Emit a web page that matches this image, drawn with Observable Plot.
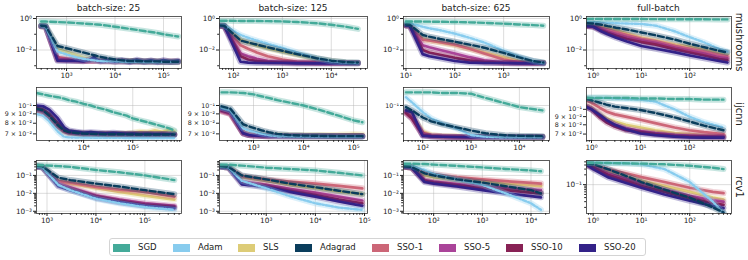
<!DOCTYPE html>
<html><head><meta charset="utf-8">
<script src="https://cdn.jsdelivr.net/npm/d3@7"></script>
<script src="https://cdn.jsdelivr.net/npm/@observablehq/plot@0.6"></script>
<style>
body{margin:0;background:#fff;font-family:"DejaVu Sans",sans-serif;}
#root{position:relative;width:748px;height:260px;overflow:hidden;background:#fff;}
.panel{position:absolute;}
.title{position:absolute;font-size:9px;color:#222;transform:translate(-50%,-50%);white-space:nowrap;}
.rowlab{position:absolute;font-size:10px;color:#222;transform:translate(-50%,-50%) rotate(90deg);white-space:nowrap;}
#legend{position:absolute;left:109px;top:238px;width:537px;height:18px;border:1px solid #d4d4d4;border-radius:3px;box-sizing:border-box;}
.sw{position:absolute;top:4.5px;width:17px;height:8px;}
.lt{position:absolute;top:2px;font-size:8.5px;color:#222;white-space:nowrap;line-height:12px;}
</style></head>
<body><div id="root"></div>
<script>
const methods = ["SGD","Adam","SLS","Adagrad","SSO-1","SSO-5","SSO-10","SSO-20"];
const colors = ["#44AA99","#88CCEE","#DDCC77","#0a3d5c","#CC6677","#AA4499","#882255","#332288"];
const datasets = ["mushrooms","ijcnn","rcv1"];
const batches = ["batch-size: 25","batch-size: 125","batch-size: 625","full-batch"];

// ---- mushrooms ----
const m25_x = [300,370,650,1000,1500,2200,3000,3700,4200,5000,7000,10000,14000,20000,28000,40000,55000,75000,100000,140000,200000];
const m25 = [
 [0.65,0.64,0.6,0.56,0.52,0.48,0.45,0.43,0.42,0.4,0.35,0.3,0.26,0.22,0.19,0.16,0.14,0.12,0.1,0.085,0.072],
 [0.33,0.3,0.008,0.0052,0.0036,0.0028,0.0024,0.0022,0.0021,0.002,0.0019,0.0019,0.0018,0.0018,0.0018,0.0017,0.0017,0.0017,0.0017,0.0017,0.0017],
 [0.33,0.31,0.011,0.0075,0.005,0.0035,0.0028,0.0025,0.0023,0.0021,0.002,0.0019,0.0019,0.0019,0.0019,0.0018,0.0018,0.0018,0.0018,0.0018,0.0018],
 [0.35,0.33,0.018,0.013,0.0095,0.007,0.0055,0.0047,0.0042,0.0037,0.003,0.0025,0.0022,0.002,0.002,0.0019,0.0019,0.0019,0.0018,0.0018,0.0018],
 [0.32,0.3,0.0035,0.003,0.0026,0.0023,0.0022,0.0021,0.0021,0.002,0.002,0.0019,0.0019,0.0019,0.0019,0.0018,0.0018,0.0018,0.0018,0.0018,0.0018],
 [0.32,0.3,0.0026,0.0024,0.0022,0.0021,0.002,0.002,0.002,0.0019,0.0019,0.0019,0.0018,0.0018,0.0018,0.0018,0.0018,0.0018,0.0018,0.0018,0.0018],
 [0.32,0.3,0.0023,0.0022,0.0021,0.002,0.002,0.0021,0.002,0.0019,0.002,0.0019,0.0019,0.0018,0.0019,0.0018,0.0019,0.0018,0.0018,0.0018,0.0018],
 [0.35,0.33,0.0021,0.002,0.0021,0.0019,0.0024,0.0036,0.0024,0.0019,0.0022,0.0018,0.0023,0.0017,0.0024,0.0018,0.0022,0.0017,0.0023,0.0018,0.0021]
];
const m125_x = [55,65,140,200,300,500,1000,2000,5000,10000,20000,35000];
const m125 = [
 [0.72,0.72,0.7,0.7,0.69,0.68,0.65,0.6,0.5,0.4,0.3,0.22],
 [0.38,0.37,0.09,0.06,0.04,0.025,0.014,0.007,0.003,0.0019,0.0016,0.0015],
 [0.36,0.35,0.045,0.03,0.02,0.013,0.008,0.005,0.0028,0.002,0.0016,0.0015],
 [0.36,0.35,0.04,0.03,0.022,0.015,0.009,0.0055,0.003,0.0021,0.0017,0.0016],
 [0.34,0.33,0.02,0.012,0.007,0.004,0.0025,0.0018,0.0016,0.0015,0.0015,0.0015],
 [0.34,0.33,0.006,0.004,0.0028,0.002,0.0017,0.0016,0.0015,0.0015,0.0015,0.0015],
 [0.34,0.33,0.004,0.0025,0.002,0.0017,0.0016,0.0015,0.0015,0.0015,0.0015,0.0015],
 [0.36,0.35,0.0018,0.0016,0.0015,0.0015,0.0015,0.0014,0.0014,0.0014,0.0014,0.0014]
];
const m625_x = [10,12,22,30,50,100,200,400,1000,2000,4000,6500];
const m625 = [
 [0.65,0.65,0.64,0.63,0.62,0.6,0.57,0.53,0.47,0.42,0.38,0.35],
 [0.5,0.5,0.3,0.24,0.18,0.11,0.06,0.03,0.009,0.004,0.002,0.0015],
 [0.38,0.36,0.05,0.04,0.03,0.02,0.012,0.007,0.0035,0.002,0.0016,0.0015],
 [0.42,0.4,0.09,0.07,0.05,0.034,0.022,0.014,0.0065,0.0035,0.002,0.0016],
 [0.36,0.35,0.045,0.04,0.032,0.022,0.012,0.006,0.0025,0.0017,0.0015,0.0015],
 [0.36,0.34,0.02,0.015,0.01,0.006,0.0035,0.0022,0.0016,0.0015,0.0015,0.0015],
 [0.36,0.34,0.01,0.007,0.005,0.0032,0.0022,0.0017,0.0015,0.0015,0.0015,0.0015],
 [0.36,0.34,0.0055,0.004,0.003,0.002,0.0016,0.0015,0.0015,0.0014,0.0014,0.0014]
];
const mF_x = [0.75,1,1.5,2,3,5,10,20,50,100,200,400,600];
const mF = [
 [0.95,0.95,0.94,0.94,0.93,0.93,0.92,0.91,0.9,0.9,0.89,0.88,0.88],
 [0.6,0.58,0.55,0.53,0.5,0.48,0.45,0.35,0.15,0.065,0.03,0.012,0.008],
 [0.4,0.38,0.3,0.25,0.18,0.11,0.06,0.04,0.022,0.016,0.01,0.006,0.005],
 [0.5,0.48,0.4,0.33,0.26,0.2,0.13,0.085,0.045,0.025,0.015,0.009,0.007],
 [0.35,0.34,0.25,0.2,0.14,0.09,0.05,0.035,0.018,0.012,0.008,0.005,0.004],
 [0.33,0.32,0.2,0.15,0.1,0.065,0.04,0.028,0.014,0.009,0.006,0.0035,0.003],
 [0.33,0.31,0.17,0.12,0.08,0.05,0.032,0.022,0.011,0.007,0.0045,0.0027,0.0023],
 [0.33,0.3,0.15,0.1,0.06,0.035,0.018,0.012,0.007,0.0045,0.003,0.002,0.0016]
];
// ---- ijcnn ----
const i25_x = [1100,1500,2000,3000,4000,5000,7000,10000,14000,20000,28000,40000,55000,75000,100000,140000,200000,280000,400000,550000,700000];
const i25 = [
 [0.117,0.115,0.113,0.111,0.109,0.107,0.105,0.102,0.1,0.097,0.095,0.092,0.09,0.088,0.085,0.083,0.081,0.079,0.077,0.075,0.073],
 [0.09,0.088,0.082,0.072,0.0675,0.067,0.0668,0.0668,0.0667,0.0667,0.0666,0.0666,0.0666,0.0665,0.0665,0.0665,0.0665,0.0665,0.0665,0.0665,0.0665],
 [0.093,0.091,0.086,0.077,0.072,0.0705,0.07,0.0698,0.0697,0.0696,0.07,0.0698,0.0702,0.0705,0.071,0.072,0.0715,0.073,0.0718,0.0735,0.072],
 [0.096,0.094,0.088,0.078,0.073,0.0715,0.0708,0.0702,0.07,0.0698,0.0697,0.0697,0.0696,0.0696,0.0695,0.0695,0.0695,0.0694,0.0694,0.0694,0.0694],
 [0.092,0.09,0.085,0.076,0.072,0.0705,0.07,0.0698,0.0697,0.0696,0.0696,0.0695,0.0695,0.0695,0.0694,0.0694,0.0694,0.0693,0.0693,0.0693,0.0693],
 [0.095,0.093,0.088,0.078,0.073,0.071,0.0705,0.07,0.07,0.0698,0.0698,0.0697,0.0697,0.0696,0.0696,0.0695,0.0695,0.0695,0.0694,0.0694,0.0694],
 [0.097,0.095,0.09,0.08,0.074,0.072,0.071,0.0705,0.0705,0.07,0.07,0.0698,0.0698,0.0697,0.0697,0.0696,0.0696,0.0695,0.0695,0.0694,0.0694],
 [0.1,0.099,0.095,0.085,0.076,0.073,0.072,0.071,0.0715,0.071,0.0705,0.071,0.0705,0.07,0.0703,0.0698,0.07,0.0697,0.0698,0.0695,0.0695]
];
const i125_x = [230,345,620,800,1000,1500,2000,3000,5000,10000,20000,50000,100000,150000];
const i125 = [
 [0.118,0.118,0.117,0.116,0.115,0.112,0.11,0.107,0.104,0.1,0.095,0.088,0.083,0.081],
 [0.097,0.094,0.075,0.073,0.072,0.07,0.069,0.068,0.0678,0.0677,0.0677,0.0676,0.0676,0.0676],
 [0.094,0.091,0.072,0.0705,0.07,0.0695,0.069,0.0688,0.0687,0.0687,0.069,0.0692,0.0697,0.0695],
 [0.099,0.096,0.079,0.077,0.0755,0.073,0.0715,0.07,0.069,0.0685,0.0683,0.068,0.068,0.068],
 [0.093,0.09,0.071,0.0695,0.069,0.0685,0.0683,0.0682,0.068,0.068,0.068,0.068,0.068,0.068],
 [0.093,0.09,0.0705,0.069,0.0685,0.0682,0.068,0.068,0.068,0.068,0.068,0.068,0.068,0.068],
 [0.094,0.091,0.0705,0.069,0.0685,0.0682,0.068,0.068,0.068,0.068,0.068,0.068,0.068,0.068],
 [0.096,0.093,0.0705,0.069,0.0685,0.0682,0.068,0.068,0.068,0.0679,0.0679,0.0679,0.0679,0.0679]
];
const i625_x = [45,60,100,150,250,500,1000,2000,5000,10000,30000];
const i625 = [
 [0.118,0.118,0.118,0.118,0.117,0.117,0.116,0.11,0.103,0.098,0.094],
 [0.111,0.104,0.092,0.085,0.08,0.075,0.069,0.0675,0.067,0.067,0.067],
 [0.093,0.088,0.072,0.069,0.068,0.068,0.0675,0.0673,0.0672,0.0672,0.0672],
 [0.098,0.094,0.086,0.082,0.079,0.076,0.073,0.0705,0.0688,0.0683,0.068],
 [0.092,0.087,0.071,0.0685,0.068,0.0675,0.0673,0.0672,0.0672,0.0672,0.0672],
 [0.091,0.085,0.069,0.068,0.0675,0.0673,0.0672,0.0672,0.0672,0.0672,0.0672],
 [0.091,0.085,0.069,0.068,0.0675,0.0673,0.0672,0.0672,0.0672,0.0672,0.0672],
 [0.094,0.092,0.0683,0.0678,0.0675,0.0673,0.0672,0.0672,0.0672,0.0672,0.0672]
];
const iF_x = [0.8,1,1.5,2,3,5,10,20,50,100,200,500];
const iF = [
 [0.118,0.118,0.118,0.118,0.118,0.118,0.117,0.117,0.116,0.116,0.115,0.115],
 [0.118,0.118,0.118,0.118,0.117,0.116,0.115,0.112,0.1,0.09,0.083,0.077],
 [0.105,0.102,0.093,0.088,0.084,0.08,0.077,0.074,0.071,0.07,0.069,0.068],
 [0.116,0.114,0.11,0.107,0.104,0.102,0.099,0.095,0.089,0.084,0.079,0.074],
 [0.113,0.11,0.102,0.097,0.093,0.09,0.086,0.082,0.077,0.074,0.072,0.07],
 [0.104,0.1,0.09,0.085,0.08,0.076,0.073,0.071,0.069,0.0685,0.068,0.0675],
 [0.104,0.1,0.089,0.083,0.078,0.074,0.072,0.07,0.068,0.0675,0.0672,0.067],
 [0.103,0.1,0.092,0.086,0.08,0.075,0.0706,0.069,0.0675,0.0667,0.0665,0.0665]
];
// ---- rcv1 ----
const r25_x = [630,800,1700,3000,10000,30000,100000,400000];
const r25 = [
 [0.38,0.37,0.33,0.3,0.2,0.15,0.1,0.055],
 [0.3,0.28,0.03,0.015,0.005,0.0028,0.0017,0.0012],
 [0.3,0.29,0.045,0.035,0.02,0.012,0.0075,0.0045],
 [0.33,0.32,0.075,0.055,0.035,0.024,0.015,0.009],
 [0.3,0.29,0.05,0.04,0.023,0.016,0.012,0.0065],
 [0.3,0.29,0.035,0.021,0.0075,0.0045,0.0028,0.002],
 [0.3,0.29,0.03,0.018,0.0065,0.0038,0.0023,0.0017],
 [0.3,0.29,0.025,0.015,0.0055,0.0032,0.002,0.0015]
];
const r125_x = [120,170,320,1000,3000,10000,30000,90000];
const r125 = [
 [0.4,0.4,0.35,0.27,0.23,0.19,0.14,0.1],
 [0.3,0.28,0.05,0.019,0.007,0.0028,0.0016,0.0012],
 [0.3,0.28,0.08,0.05,0.03,0.02,0.013,0.009],
 [0.32,0.3,0.1,0.06,0.035,0.022,0.014,0.009],
 [0.3,0.28,0.09,0.06,0.045,0.035,0.026,0.019],
 [0.3,0.28,0.045,0.03,0.018,0.011,0.0065,0.004],
 [0.3,0.28,0.04,0.025,0.014,0.008,0.0045,0.0028],
 [0.3,0.28,0.032,0.022,0.012,0.0065,0.0035,0.002]
];
const r625_x = [25,35,65,100,300,1000,3000,10000,16000];
const r625 = [
 [0.45,0.45,0.43,0.4,0.34,0.28,0.23,0.19,0.17],
 [0.35,0.33,0.2,0.12,0.06,0.03,0.01,0.0028,0.0012],
 [0.3,0.28,0.1,0.08,0.06,0.045,0.035,0.028,0.025],
 [0.32,0.3,0.13,0.1,0.06,0.04,0.025,0.015,0.01],
 [0.3,0.28,0.15,0.12,0.08,0.06,0.048,0.038,0.035],
 [0.3,0.28,0.055,0.045,0.033,0.025,0.02,0.016,0.015],
 [0.3,0.28,0.05,0.04,0.028,0.02,0.015,0.011,0.01],
 [0.3,0.28,0.043,0.035,0.024,0.015,0.01,0.007,0.006]
];
const rF_x = [0.75,1,2,5,10,30,100,300,500];
const rF = [
 [0.47,0.47,0.46,0.45,0.44,0.42,0.38,0.33,0.3],
 [0.47,0.47,0.46,0.45,0.42,0.3,0.12,0.03,0.013],
 [0.4,0.35,0.25,0.17,0.13,0.09,0.06,0.04,0.035],
 [0.45,0.42,0.3,0.18,0.12,0.07,0.04,0.02,0.014],
 [0.42,0.4,0.3,0.22,0.17,0.12,0.08,0.06,0.055],
 [0.4,0.35,0.22,0.15,0.11,0.07,0.045,0.033,0.03],
 [0.4,0.33,0.2,0.13,0.09,0.06,0.038,0.027,0.024],
 [0.4,0.3,0.17,0.11,0.08,0.05,0.032,0.022,0.019]
];

const xDomains = [
 [[240,235000],[52,55000],[8.9,8700],[0.73,730]],
 [[1100,980000],[209,190000],[40,42000],[0.79,730]],
 [[610,560000],[112,115000],[24,24000],[0.73,730]]
];
const yDomains = [
 [[0.00067,1.34],[0.00067,1.34],[0.00067,1.34],[0.00067,1.34]],
 [[0.0644,0.1254],[0.0644,0.1254],[0.0644,0.1254],[0.0638,0.137]],
 [[0.00075,0.68],[0.00075,0.68],[0.00075,0.68],[0.013,0.55]]
];
const yLabels = [
 [[1,0.01],[1,0.01],[1,0.01],[1,0.01]],
 [[0.1,0.09,0.08,0.07],[0.1,0.09,0.08,0.07],[0.1],[0.1,0.09,0.08,0.07]],
 [[0.1,0.01,0.001],[0.1,0.01,0.001],[0.1,0.01,0.001],[0.1]]
];
const yGrids = [
 [[1,0.01],[1,0.01],[1,0.01],[1,0.01]],
 [[0.1],[0.1],[0.1],[0.1]],
 [[0.1,0.01,0.001],[0.1,0.01,0.001],[0.1,0.01,0.001],[0.1]]
];
const yMinors = [
 [[0.1,0.001],[0.1,0.001],[0.1,0.001],[0.1,0.001]],
 [[],[],[0.09,0.08,0.07],[]],
 [null,null,null,null]
];
const panelX = [[m25_x,m125_x,m625_x,mF_x],[i25_x,i125_x,i625_x,iF_x],[r25_x,r125_x,r625_x,rF_x]];
const panelY = [[m25,m125,m625,mF],[i25,i125,i625,iF],[r25,r125,r625,rF]];

const cols = [[36,181],[219,367],[403,549],[586,731]];
const rows = [[16,68],[87,140],[160,213]];
const drawOrder = [2,4,5,6,7,1,3,0];
const dashes = {0:"6,3",1:"4,2,1.5,2",3:"6,3"};

const supMap = {"-":"⁻","0":"⁰","1":"¹","2":"²","3":"³","4":"⁴","5":"⁵","6":"⁶","7":"⁷","8":"⁸","9":"⁹"};
function fmt(d){
  const e = Math.floor(Math.log10(d)+1e-9);
  const m = Math.round(d/Math.pow(10,e));
  const s = "10" + String(e).split("").map(c=>supMap[c]).join("");
  return m===1 ? s : m + " × " + s;
}
function decades(lo,hi){
  const out=[];
  for(let e=Math.ceil(Math.log10(lo)-1e-9); e<=Math.floor(Math.log10(hi)+1e-9); e++) out.push(+Math.pow(10,e).toPrecision(6));
  return out;
}
function minors(lo,hi){
  const out=[];
  for(let e=Math.floor(Math.log10(lo)); e<=Math.floor(Math.log10(hi)); e++)
    for(let k=2;k<=9;k++){ const v=+(k*Math.pow(10,e)).toPrecision(6); if(v>=lo&&v<=hi) out.push(v); }
  return out;
}

const root = document.getElementById("root");
const ml=38, mr=8, mt=4, mb=14;
const FS = 7.3;

for(let r=0;r<3;r++){
  for(let c=0;c<4;c++){
    const xs = panelX[r][c], Y = panelY[r][c];
    const xd = xDomains[r][c], yd = yDomains[r][c];
    const fw = cols[c][1]-cols[c][0], fh = rows[r][1]-rows[r][0];
    const xMaj = decades(xd[0],xd[1]);
    const xMin = minors(xd[0],xd[1]);
    let yMin = yMinors[r][c];
    if(yMin===null) yMin = minors(yd[0],yd[1]);
    const yLab = yLabels[r][c];
    const yFS = r===1 ? 6.3 : FS;
    const marks = [
      Plot.gridX(xMaj,{stroke:"#b0b0b0",strokeOpacity:0.55,strokeWidth:0.8}),
      Plot.gridY(yGrids[r][c],{stroke:"#b0b0b0",strokeOpacity:0.55,strokeWidth:0.8})
    ];
    for(const s of drawOrder){
      const data = xs.map((x,i)=>({x, y:Y[s][i]}));
      marks.push(Plot.line(data,{x:"x",y:"y",stroke:colors[s],strokeWidth:6,strokeOpacity:0.3,clip:true}));
      marks.push(Plot.line(data,{x:"x",y:"y",stroke:colors[s],strokeWidth:(s===0||s===1||s===3)?2.4:2.7,
        strokeDasharray:dashes[s]||null,clip:true}));
    }
    marks.push(Plot.frame({stroke:"#333",strokeWidth:0.8}));
    marks.push(Plot.axisX({ticks:xMaj,tickSize:3,tickFormat:()=>"",label:null}));
    marks.push(Plot.axisX({ticks:xMin,tickSize:1.8,tickFormat:()=>"",label:null}));
    marks.push(Plot.axisY({ticks:yLab,tickSize:3,tickFormat:()=>"",label:null}));
    if(yMin.length) marks.push(Plot.axisY({ticks:yMin,tickSize:1.8,tickFormat:()=>"",label:null}));
    marks.push(Plot.text(xMaj,{x:d=>d,text:d=>fmt(d),frameAnchor:"bottom",lineAnchor:"top",dy:4,fontSize:FS,fill:"#222"}));
    marks.push(Plot.text(yLab,{y:d=>d,text:d=>fmt(d),frameAnchor:"left",textAnchor:"end",dx:-4.5,
      dy:(r===1&&c===3)?0:0, fontSize:yFS,fill:"#222"}));
    const svg = Plot.plot({
      width: fw+ml+mr, height: fh+mt+mb,
      marginLeft: ml, marginRight: mr, marginTop: mt, marginBottom: mb,
      x:{type:"log",domain:xd,label:null},
      y:{type:"log",domain:yd,label:null},
      style:{background:"transparent",fontFamily:"DejaVu Sans",fontSize:FS+"px",color:"#222",overflow:"visible"},
      marks
    });
    svg.classList.add("panel");
    svg.style.left = (cols[c][0]-ml)+"px";
    svg.style.top = (rows[r][0]-mt)+"px";
    svg.style.position = "absolute";
    root.appendChild(svg);
  }
}
batches.forEach((b,c)=>{
  const d=document.createElement("div"); d.className="title"; d.textContent=b;
  d.style.left=((cols[c][0]+cols[c][1])/2)+"px"; d.style.top="8px"; root.appendChild(d);
});
datasets.forEach((n,r)=>{
  const d=document.createElement("div"); d.className="rowlab"; d.textContent=n;
  d.style.left="739px"; d.style.top=((rows[r][0]+rows[r][1])/2)+"px"; root.appendChild(d);
});
const leg=document.createElement("div"); leg.id="legend"; root.appendChild(leg);
const swLeft=[3,63,128,185,262,329,396,469];
methods.forEach((m,i)=>{
  const s=document.createElement("div"); s.className="sw"; s.style.left=swLeft[i]+"px"; s.style.background=colors[i]; leg.appendChild(s);
  const t=document.createElement("div"); t.className="lt"; t.style.left=(swLeft[i]+25)+"px"; t.textContent=m; leg.appendChild(t);
});
</script></body></html>
